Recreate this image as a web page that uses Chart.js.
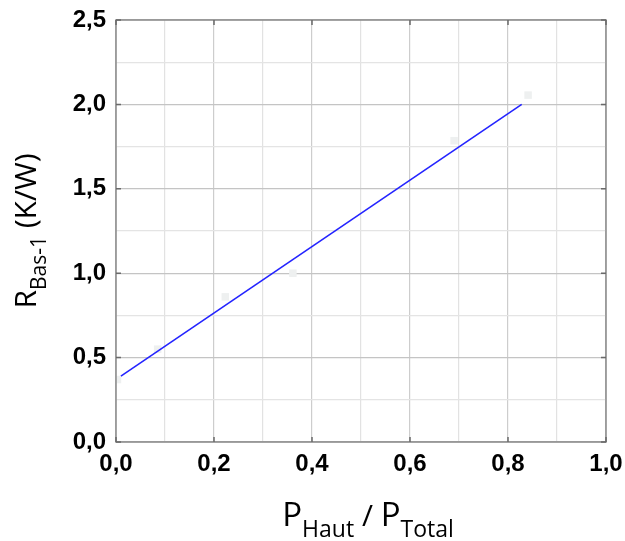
<!DOCTYPE html>
<html>
<head>
<meta charset="utf-8">
<script src="https://cdn.jsdelivr.net/npm/chart.js@4"></script>
<style>
  html, body { margin: 0; padding: 0; background: #fff; }
  #wrap { width: 625px; height: 541px; }
</style>
</head>
<body>
<div id="wrap"><canvas id="chart"></canvas></div>
<script>
// mesures (carrés gris clair)
let pointsX = [0.003, 0.085, 0.223, 0.361, 0.690, 0.841];
let pointsY = [0.37, 0.55, 0.86, 1.00, 1.785, 2.055];

// droite d'ajustement
let fitX = [0.010, 0.828];
let fitY = [0.390, 2.000];

let xMajor = [0, 0.2, 0.4, 0.6, 0.8, 1.0];
let yMajor = [0, 0.5, 1.0, 1.5, 2.0, 2.5];

function fmt(v) {
    return v.toFixed(1).replace('.', ',');
}
function isMajor(v, step) {
    let r = v / step;
    return Math.abs(r - Math.round(r)) < 1e-6;
}

// cadre, petites graduations intérieures et titres des axes
const decor = {
    id: 'decor',
    afterDraw(chart) {
        let ctx = chart.ctx;
        let a = chart.chartArea;
        let sx = chart.scales.x, sy = chart.scales.y;
        ctx.save();
        ctx.strokeStyle = '#8a8a8a';
        ctx.lineWidth = 1.5;
        ctx.strokeRect(a.left, a.top, a.right - a.left, a.bottom - a.top);
        ctx.strokeStyle = '#6a6a6a';
        ctx.beginPath();
        xMajor.forEach(v => {
            let px = sx.getPixelForValue(v);
            ctx.moveTo(px, a.bottom); ctx.lineTo(px, a.bottom - 5);
            ctx.moveTo(px, a.top); ctx.lineTo(px, a.top + 5);
        });
        yMajor.forEach(v => {
            let py = sy.getPixelForValue(v);
            ctx.moveTo(a.left, py); ctx.lineTo(a.left + 5, py);
            ctx.moveTo(a.right, py); ctx.lineTo(a.right - 5, py);
        });
        ctx.stroke();

        // titre axe x : P_Haut / P_Total
        ctx.fillStyle = '#000';
        ctx.textBaseline = 'alphabetic';
        let big = '33px "Open Sans"', small = '23px "Open Sans"';
        let parts = [['P', big, 0], ['Haut', small, 11], [' / ', '30px "Open Sans"', 0], ['P', big, 0], ['Total', small, 11]];
        let w = 0;
        parts.forEach(p => { ctx.font = p[1]; w += ctx.measureText(p[0]).width; });
        let x = (a.left + a.right) / 2 + 7 - w / 2;
        parts.forEach(p => {
            ctx.font = p[1];
            ctx.fillText(p[0], x, 526 + p[2]);
            x += ctx.measureText(p[0]).width;
        });

        // titre axe y : R_Bas-1 (K/W)
        let ybig = '30px "Open Sans"', ysmall = '21px "Open Sans"';
        let yparts = [['R', ybig, 0], ['Bas-1', ysmall, 10], [' (K/W)', ybig, 0]];
        w = 0;
        yparts.forEach(p => { ctx.font = p[1]; w += ctx.measureText(p[0]).width; });
        ctx.translate(36, (a.top + a.bottom) / 2);
        ctx.rotate(-Math.PI / 2);
        x = -w / 2;
        yparts.forEach(p => {
            ctx.font = p[1];
            ctx.fillText(p[0], x, p[2]);
            x += ctx.measureText(p[0]).width;
        });
        ctx.restore();
    }
};

const tickFont = { family: '"Liberation Sans", Arial', size: 24, weight: 'bold' };

chart = new Chart(document.getElementById('chart'), {
    type: 'scatter',
    data: {
        datasets: [
            {
                label: 'Ajustement',
                data: fitX.map((v, i) => ({ x: v, y: fitY[i] })),
                showLine: true,
                borderColor: '#2424ff',
                borderWidth: 1.6,
                pointRadius: 0,
                order: 0
            },
            {
                label: 'Mesures',
                data: pointsX.map((v, i) => ({ x: v, y: pointsY[i] })),
                pointStyle: 'rect',
                pointRadius: 5.3,
                backgroundColor: '#eef0f0',
                borderWidth: 0,
                order: 1
            }
        ]
    },
    options: {
        responsive: true,
        maintainAspectRatio: false,
        animation: false,
        layout: { padding: { top: 20, right: 19, left: 0, bottom: 0 } },
        plugins: { legend: { display: false }, tooltip: { enabled: false } },
        scales: {
            x: {
                type: 'linear', min: 0, max: 1,
                border: { display: false },
                grid: {
                    drawTicks: false,
                    color: ctx => isMajor(ctx.tick.value, 0.2) ? '#cdcdcd' : '#e2e2e2',
                    lineWidth: 1.2
                },
                ticks: {
                    stepSize: 0.1, padding: 8, color: '#000', font: tickFont,
                    maxRotation: 0, autoSkip: false,
                    callback: v => isMajor(v, 0.2) ? fmt(v) : ''
                },
                afterFit: s => { s.height = 99; s.paddingLeft = 0; s.paddingRight = 0; }
            },
            y: {
                type: 'linear', min: 0, max: 2.5,
                border: { display: false },
                grid: {
                    drawTicks: false,
                    color: ctx => isMajor(ctx.tick.value, 0.5) ? '#c4c4c4' : '#e4e4e4',
                    lineWidth: 1.2
                },
                ticks: {
                    stepSize: 0.25, padding: 10, color: '#000', font: tickFont,
                    autoSkip: false,
                    callback: v => isMajor(v, 0.5) ? fmt(v) : ''
                },
                afterFit: s => { s.width = 116; s.paddingTop = 0; s.paddingBottom = 0; }
            }
        }
    },
    plugins: [decor]
});
</script>
</body>
</html>
